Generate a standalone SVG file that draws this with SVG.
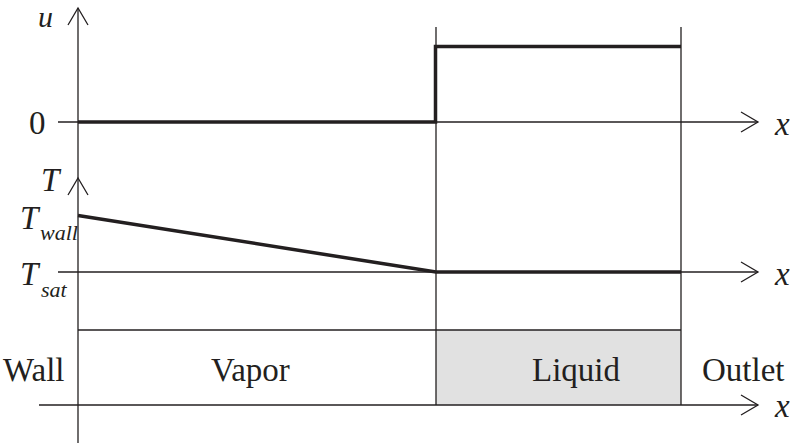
<svg xmlns="http://www.w3.org/2000/svg" width="807" height="447" viewBox="0 0 807 447">
<style>
.thin{stroke:#231f20;stroke-width:1.3;fill:none}
.thick{stroke:#231f20;stroke-width:3.5;fill:none}
.lbl{font-family:"Liberation Serif","Times New Roman",serif;fill:#231f20;font-size:33px}
.it{font-style:italic}
.sub{font-size:22px}
</style>
<rect width="807" height="447" fill="#ffffff"/>
<g id="liquid-region">
<rect x="436" y="330" width="245" height="75" fill="#e1e1e1"/>
</g>
<g id="connectors">
<line class="thin" x1="78" y1="8" x2="78" y2="443"/>
<polyline class="thin" points="68,25 78,8 88,25"/>
<polyline class="thin" points="68,195 78,178 88,195"/>
<line class="thin" x1="58" y1="122" x2="758" y2="122"/>
<polyline class="thin" points="741,112 758,122 741,132"/>
<line class="thin" x1="58" y1="272" x2="758" y2="272"/>
<polyline class="thin" points="741,262 758,272 741,282"/>
<line class="thin" x1="39" y1="405" x2="758" y2="405"/>
<polyline class="thin" points="741,395 758,405 741,415"/>
<line class="thin" x1="78" y1="330" x2="681" y2="330"/>
<line class="thin" x1="436" y1="27" x2="436" y2="405"/>
<line class="thin" x1="681" y1="27" x2="681" y2="405"/>
<polyline class="thick" points="78,122 435.5,122 435.5,46.5 681,46.5"/>
<polyline class="thick" points="78,215.5 436,272 681,272"/>
</g>
<g id="labels">
<text class="lbl it" x="38" y="27" style="font-size:30px">u</text>
<text class="lbl" x="29" y="134">0</text>
<text class="lbl it" x="41" y="191">T</text>
<text class="lbl it" x="20" y="229">T<tspan class="sub" x="40" y="240">wall</tspan></text>
<text class="lbl it" x="20" y="285">T<tspan class="sub" x="41" y="297">sat</tspan></text>
<text class="lbl it" x="775" y="135">x</text>
<text class="lbl it" x="775" y="285">x</text>
<text class="lbl it" x="775" y="417">x</text>
</g>
<g id="wall"><text class="lbl" x="3" y="381">Wall</text></g>
<g id="vapor"><text class="lbl" x="211" y="381">Vapor</text></g>
<g id="liquid"><text class="lbl" x="532" y="381">Liquid</text></g>
<g id="outlet"><text class="lbl" x="702" y="381">Outlet</text></g>
</svg>
